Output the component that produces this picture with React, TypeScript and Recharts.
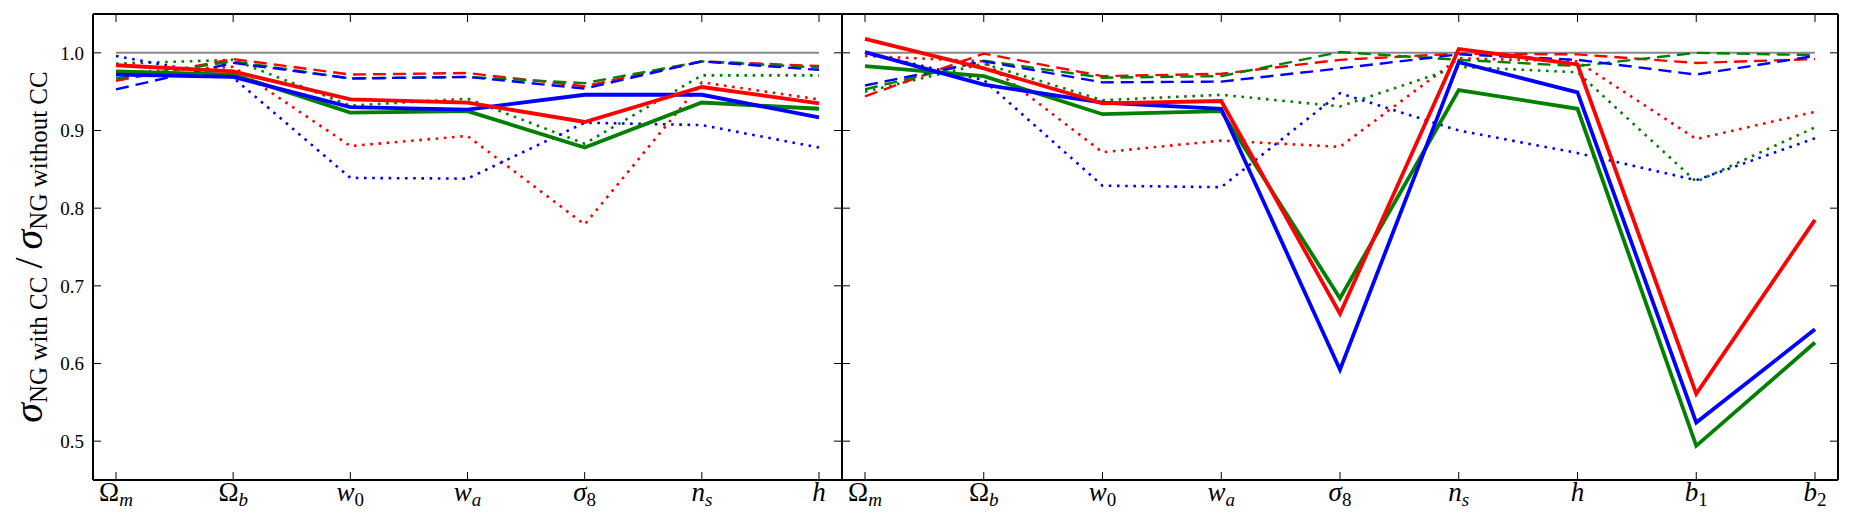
import { LineChart, Line, XAxis, YAxis } from "recharts";

// parameter keys along the x axis
const leftParams = ["Om", "Ob", "w0", "wa", "s8", "ns", "h"];
const rightParams = ["Om", "Ob", "w0", "wa", "s8", "ns", "h", "b1", "b2"];

const yTicks = [0.5, 0.6, 0.7, 0.8, 0.9, 1.0];
const unity = 1.0;

// left panel: cosmology only
const leftRedSolid = [0.984, 0.976, 0.94, 0.936, 0.911, 0.956, 0.935];
const leftGreenSolid = [0.976, 0.972, 0.923, 0.925, 0.878, 0.936, 0.928];
const leftBlueSolid = [0.972, 0.969, 0.93, 0.927, 0.946, 0.946, 0.917];
const leftRedDashed = [0.964, 0.992, 0.972, 0.974, 0.957, 0.989, 0.983];
const leftGreenDashed = [0.967, 0.989, 0.967, 0.969, 0.961, 0.989, 0.981];
const leftBlueDashed = [0.953, 0.987, 0.967, 0.969, 0.954, 0.989, 0.978];
const leftRedDotted = [0.974, 0.982, 0.88, 0.893, 0.779, 0.962, 0.94];
const leftGreenDotted = [0.986, 0.991, 0.932, 0.941, 0.883, 0.971, 0.971];
const leftBlueDotted = [0.996, 0.968, 0.839, 0.838, 0.91, 0.907, 0.878];

// right panel: cosmology + bias
const rightRedSolid = [1.018, 0.98, 0.935, 0.938, 0.664, 1.005, 0.985, 0.561, 0.785];
const rightGreenSolid = [0.983, 0.97, 0.921, 0.925, 0.684, 0.952, 0.928, 0.494, 0.627];
const rightBlueSolid = [1.001, 0.959, 0.936, 0.928, 0.592, 0.988, 0.949, 0.524, 0.644];
const rightRedDashed = [0.944, 0.999, 0.97, 0.973, 0.991, 0.999, 0.998, 0.987, 0.992];
const rightGreenDashed = [0.953, 0.99, 0.968, 0.97, 1.001, 0.991, 0.983, 1.0, 0.997];
const rightBlueDashed = [0.958, 0.989, 0.962, 0.963, 0.98, 0.998, 0.991, 0.972, 0.996];
const rightRedDotted = [0.996, 0.989, 0.872, 0.887, 0.879, 0.993, 0.989, 0.889, 0.924];
const rightGreenDotted = [0.95, 0.986, 0.939, 0.946, 0.931, 0.982, 0.975, 0.834, 0.904];
const rightBlueDotted = [1.0, 0.965, 0.829, 0.827, 0.948, 0.9, 0.871, 0.836, 0.89];

const RED = "#ff0000";
const GREEN = "#008000";
const BLUE = "#0000ff";
const FONT = "'Liberation Serif', 'Times New Roman', serif";

const labels: Record<string, { base: string; baseItalic: boolean; sub?: string; subItalic?: boolean }> = {
  Om: { base: "Ω", baseItalic: false, sub: "m", subItalic: true },
  Ob: { base: "Ω", baseItalic: false, sub: "b", subItalic: true },
  w0: { base: "w", baseItalic: true, sub: "0", subItalic: false },
  wa: { base: "w", baseItalic: true, sub: "a", subItalic: true },
  s8: { base: "σ", baseItalic: true, sub: "8", subItalic: false },
  ns: { base: "n", baseItalic: true, sub: "s", subItalic: true },
  h: { base: "h", baseItalic: true },
  b1: { base: "b", baseItalic: true, sub: "1", subItalic: false },
  b2: { base: "b", baseItalic: true, sub: "2", subItalic: false },
};

function buildRows(params: string[], series: Record<string, number[]>) {
  return params.map((param, i) => {
    const row: Record<string, number | string> = { param, unity };
    Object.keys(series).forEach((k) => {
      row[k] = series[k][i];
    });
    return row;
  });
}

const leftRows = buildRows(leftParams, {
  redSolid: leftRedSolid,
  greenSolid: leftGreenSolid,
  blueSolid: leftBlueSolid,
  redDashed: leftRedDashed,
  greenDashed: leftGreenDashed,
  blueDashed: leftBlueDashed,
  redDotted: leftRedDotted,
  greenDotted: leftGreenDotted,
  blueDotted: leftBlueDotted,
});

const rightRows = buildRows(rightParams, {
  redSolid: rightRedSolid,
  greenSolid: rightGreenSolid,
  blueSolid: rightBlueSolid,
  redDashed: rightRedDashed,
  greenDashed: rightGreenDashed,
  blueDashed: rightBlueDashed,
  redDotted: rightRedDotted,
  greenDotted: rightGreenDotted,
  blueDotted: rightBlueDotted,
});

function ParamTick(props: any) {
  const { x, y, payload } = props;
  const l = labels[payload.value];
  if (!l) return <g />;
  return (
    <text x={x} y={y + 21} textAnchor="middle" fontFamily={FONT} fill="#000">
      <tspan fontSize={27} fontStyle={l.baseItalic ? "italic" : "normal"}>
        {l.base}
      </tspan>
      {l.sub && (
        <tspan fontSize={19} dy={5} fontStyle={l.subItalic ? "italic" : "normal"}>
          {l.sub}
        </tspan>
      )}
    </text>
  );
}

const Empty = () => <g />;

const spine = { stroke: "#000", strokeWidth: 2 };
const tickLine = { stroke: "#000", strokeWidth: 1 };

const lineStyles = [
  { key: "redDotted", color: RED, kind: "dotted" },
  { key: "greenDotted", color: GREEN, kind: "dotted" },
  { key: "blueDotted", color: BLUE, kind: "dotted" },
  { key: "redDashed", color: RED, kind: "dashed" },
  { key: "greenDashed", color: GREEN, kind: "dashed" },
  { key: "blueDashed", color: BLUE, kind: "dashed" },
  { key: "greenSolid", color: GREEN, kind: "solid" },
  { key: "blueSolid", color: BLUE, kind: "solid" },
  { key: "redSolid", color: RED, kind: "solid" },
];

const widthFor = (kind: string) => (kind === "solid" ? 3.8 : kind === "dashed" ? 2.4 : 2.6);
const dashFor = (kind: string) => (kind === "dashed" ? "13 7" : kind === "dotted" ? "2.6 5.6" : undefined);

function Panel({
  rows,
  width,
  left,
  leftAxisWidth,
  rightAxisWidth,
  showYLabels,
}: {
  rows: any[];
  width: number;
  left: number;
  leftAxisWidth: number;
  rightAxisWidth: number;
  showYLabels: boolean;
}) {
  return (
    <div style={{ position: "absolute", left, top: 0 }}>
      <LineChart width={width} height={530} data={rows} margin={{ top: 0, right: 0, bottom: 0, left: 0 }}>
        <XAxis
          xAxisId="b"
          dataKey="param"
          interval={0}
          height={50}
          padding={{ left: 23, right: 23 }}
          axisLine={spine}
          tickLine={tickLine}
          tickSize={-8}
          tickMargin={8}
          tick={<ParamTick />}
        />
        <XAxis
          xAxisId="t"
          orientation="top"
          dataKey="param"
          interval={0}
          height={14}
          padding={{ left: 23, right: 23 }}
          axisLine={spine}
          tickLine={tickLine}
          tickSize={-8}
          tick={<Empty />}
        />
        <YAxis
          yAxisId="l"
          type="number"
          domain={[0.45, 1.05]}
          ticks={yTicks}
          width={leftAxisWidth}
          axisLine={spine}
          tickLine={tickLine}
          tickSize={-8}
          tickMargin={17}
          tickFormatter={(v: number) => v.toFixed(1)}
          tick={showYLabels ? { fill: "#000", fontSize: 19, fontFamily: FONT } : <Empty />}
          allowDataOverflow
        />
        <YAxis
          yAxisId="r"
          orientation="right"
          type="number"
          domain={[0.45, 1.05]}
          ticks={yTicks}
          width={rightAxisWidth}
          axisLine={spine}
          tickLine={tickLine}
          tickSize={-8}
          tick={<Empty />}
          allowDataOverflow
        />
        <Line
          xAxisId="b"
          yAxisId="l"
          dataKey="unity"
          stroke="#888888"
          strokeWidth={2}
          dot={false}
          activeDot={false}
          isAnimationActive={false}
        />
        {lineStyles.map((s) => (
          <Line
            key={s.key}
            xAxisId="b"
            yAxisId="l"
            type="linear"
            dataKey={s.key}
            stroke={s.color}
            strokeWidth={widthFor(s.kind)}
            strokeDasharray={dashFor(s.kind)}
            dot={false}
            activeDot={false}
            isAnimationActive={false}
          />
        ))}
      </LineChart>
    </div>
  );
}

export default function App() {
  return (
    <div style={{ position: "absolute", left: 0, top: 0, width: 1853, height: 530, background: "#fff" }}>
      <svg width={70} height={530} style={{ position: "absolute", left: 0, top: 0 }}>
        <text
          transform="translate(42, 247) rotate(-90)"
          textAnchor="middle"
          fontFamily={FONT}
          fill="#000"
          style={{ whiteSpace: "pre" }}
        >
          <tspan fontSize={40} fontStyle="italic">σ</tspan>
          <tspan fontSize={25} dy={5}>NG with CC</tspan>
          <tspan fontSize={40} dy={-5}>{"\u2009/\u2009"}</tspan>
          <tspan fontSize={40} fontStyle="italic">σ</tspan>
          <tspan fontSize={25} dy={5}>NG without CC</tspan>
        </text>
      </svg>
      <Panel rows={leftRows} width={898} left={0} leftAxisWidth={93} rightAxisWidth={56} showYLabels />
      <Panel rows={rightRows} width={1055} left={798} leftAxisWidth={44} rightAxisWidth={15} showYLabels={false} />
    </div>
  );
}
